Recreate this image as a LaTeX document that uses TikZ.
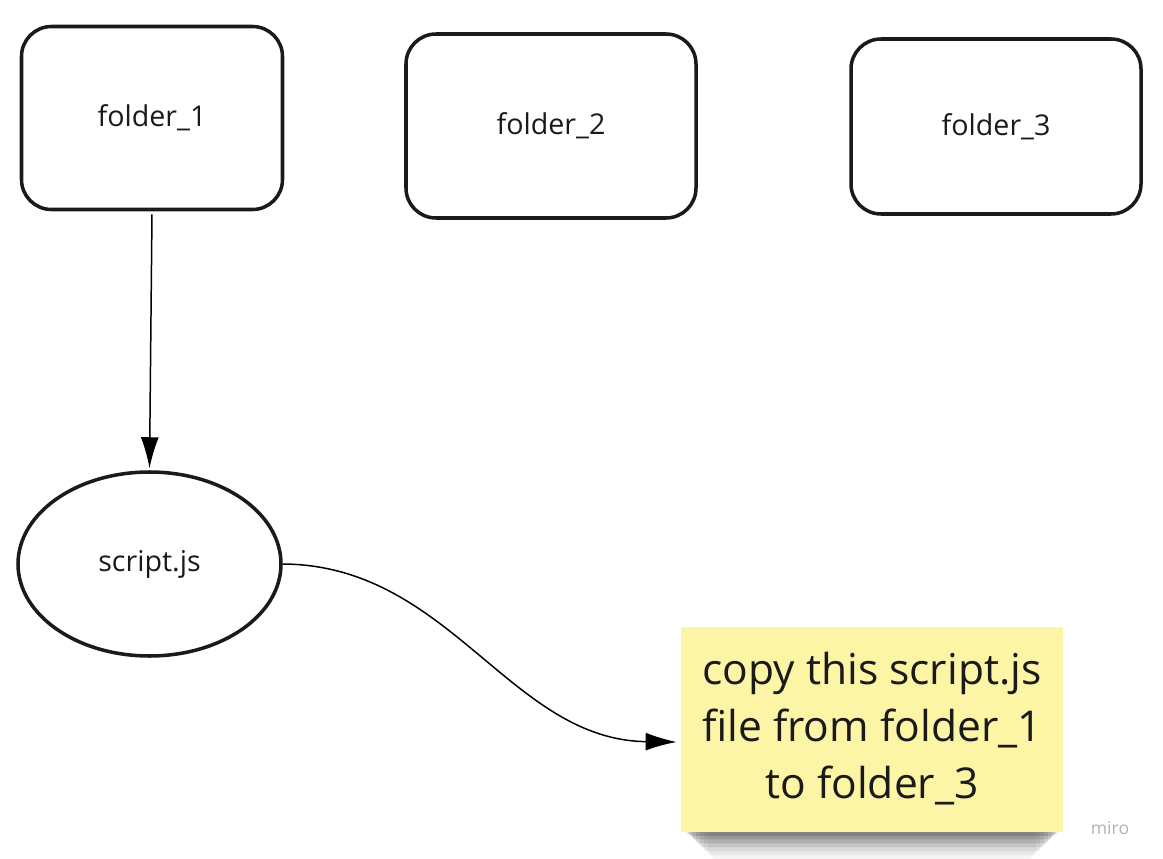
\documentclass[tikz,border=0pt]{standalone}
\usepackage{fontspec}
\setmainfont{Open Sans}
\usetikzlibrary{arrows.meta,shapes.geometric,backgrounds}
\definecolor{ink}{HTML}{1A1A1A}
\definecolor{sticky}{HTML}{FDF5A6}

\begin{document}
\begin{tikzpicture}[
  folder/.style={draw=ink, line width=2pt, rounded corners=0.6cm, text=ink, font=\fontsize{16.3}{19}\selectfont},
  file/.style={draw=ink, line width=2pt, ellipse, inner sep=0pt, text=ink, font=\fontsize{16.3}{19}\selectfont},
  notebox/.style={fill=sticky, text=ink, align=center, font=\fontsize{24.2}{32.4}\selectfont},
  shade/.style={fill=black, opacity=#1, rounded corners=0.2cm},
  link/.style={draw=black, line width=0.85pt, -{Latex[length=0.62cm,width=0.36cm]}}
]
\useasboundingbox (0,0) rectangle (23.26,-17.18);
\node[folder, minimum width=5.22cm, minimum height=3.66cm] (f1) at (3.04,-2.36) {folder\_1};
\node[folder, minimum width=5.8cm, minimum height=3.68cm] (f2) at (11.02,-2.52) {folder\_2};
\node[folder, minimum width=5.8cm, minimum height=3.5cm] (f3) at (19.92,-2.53) {folder\_3};
\node[file, minimum width=5.26cm, minimum height=3.68cm] (js) at (2.99,-11.28) {script.js};
\node[notebox, minimum width=7.64cm, minimum height=4.1cm] (note) at (17.44,-14.58) {copy this script.js\\file from folder\_1\\to folder\_3};
\node[text=black!30, font=\fontsize{10}{11}\selectfont] (miro) at (22.2,-16.56) {miro};
% soft shadow under the note
\begin{scope}[on background layer]
\foreach \d/\o in {0.55/0.04, 0.47/0.05, 0.39/0.07, 0.31/0.09, 0.23/0.11, 0.15/0.13, 0.08/0.14}
  \fill[shade=\o] ([xshift=\d cm]note.west) rectangle ([xshift=-\d cm, yshift=-\d cm]note.south east);
\end{scope}
\coordinate (tip) at ([xshift=-0.08cm, yshift=-0.26cm]note.west);
\path[link] ([yshift=-0.06cm]f1.south) -- ([yshift=0.04cm]js.north);
\path[link] (js.east) .. controls (9.0,-11.3) and (10.2,-14.8) .. (tip);
\end{tikzpicture}
\end{document}
